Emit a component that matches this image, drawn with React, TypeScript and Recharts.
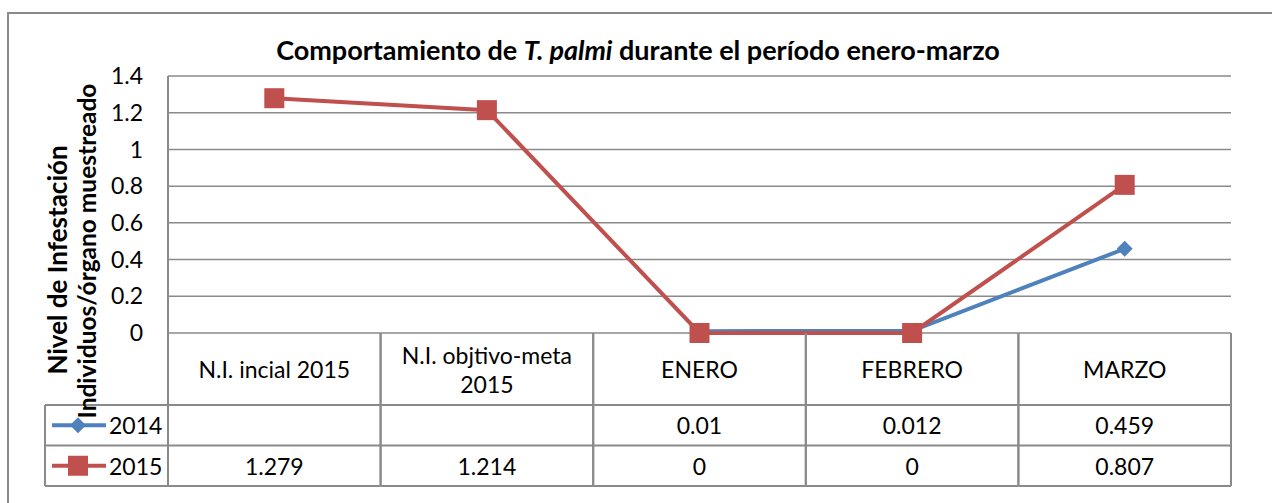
import { LineChart, Line, XAxis, YAxis, CartesianGrid } from 'recharts';

const categories = ['N.I. incial 2015', 'N.I. objtivo-meta 2015', 'ENERO', 'FEBRERO', 'MARZO'];
const values2014 = [null, null, 0.01, 0.012, 0.459];
const values2015 = [1.279, 1.214, 0, 0, 0.807];
const seriesNames = ['2014', '2015'];
const yTicks = [0, 0.2, 0.4, 0.6, 0.8, 1, 1.2, 1.4];
const titleStart = 'Comportamiento de ';
const titleItalic = 'T. palmi';
const titleEnd = ' durante el período enero-marzo';
const yLabelLines = ['Nivel de Infestación', 'Individuos/órgano muestreado'];

const W = 1272;
const H = 503;
const PLOT_LEFT = 168;
const PLOT_RIGHT = 1231;
const PLOT_TOP = 76;
const PLOT_BOTTOM = 333;
const COL_W = (PLOT_RIGHT - PLOT_LEFT) / categories.length;
const CAT_H = 72;
const ROW_H = 40.5;
const LEGEND_LEFT = 45;
const GRID = '#8a8a8a';
const BLUE = '#4F81BD';
const RED = '#C0504D';
const FONT = 'Lato, "Open Sans", sans-serif';
const FS = 23;

const data = categories.map((c, i) => ({ cat: c, s2014: values2014[i], s2015: values2015[i] }));

function wrap(text: string): string[] {
  if (text.length <= 18) return [text];
  const k = text.lastIndexOf(' ');
  return [text.slice(0, k), text.slice(k + 1)];
}

function fmt(v: number | null) {
  return v == null ? '' : String(v);
}

function SquareDot(props: any) {
  const { cx, cy } = props;
  if (cx == null || cy == null) return null;
  return <rect x={cx - 10} y={cy - 10} width={20} height={20} fill={RED} />;
}

function DiamondDot(props: any) {
  const { cx, cy } = props;
  if (cx == null || cy == null) return null;
  const r = 8;
  return <polygon points={`${cx},${cy - r} ${cx + r},${cy} ${cx},${cy + r} ${cx - r},${cy}`} fill={BLUE} />;
}

function LegendKey({ y, kind, label }: { y: number; kind: 'diamond' | 'square'; label: string }) {
  const color = kind === 'diamond' ? BLUE : RED;
  return (
    <g>
      <line x1={52} x2={106} y1={y} y2={y} stroke={color} strokeWidth={4} />
      {kind === 'diamond' ? <DiamondDot cx={78} cy={y} /> : <SquareDot cx={78} cy={y} />}
      <text x={109} y={y} dominantBaseline="central" fontSize={FS} fontFamily={FONT} fill="#000">
        {label}
      </text>
    </g>
  );
}

function TableTick(props: any) {
  const { x, y, payload } = props;
  const i = payload.index;
  const left = x - COL_W / 2;
  const right = x + COL_W / 2;
  const r1 = y + CAT_H;
  const r2 = r1 + ROW_H;
  const r3 = r2 + ROW_H;
  const lines = wrap(categories[i]);
  const txt = { fontSize: FS, fontFamily: FONT, fill: '#000', textAnchor: 'middle' as const, dominantBaseline: 'central' as const };
  return (
    <g>
      <line x1={left} x2={left} y1={y} y2={r3} stroke={GRID} strokeWidth={2} />
      <line x1={right} x2={right} y1={y} y2={r3} stroke={GRID} strokeWidth={2} />
      <line x1={left} x2={right} y1={r1} y2={r1} stroke={GRID} strokeWidth={2} />
      <line x1={left} x2={right} y1={r2} y2={r2} stroke={GRID} strokeWidth={2} />
      <line x1={left} x2={right} y1={r3} y2={r3} stroke={GRID} strokeWidth={2} />
      {lines.map((l, k) => (
        <text key={k} x={x} y={y + CAT_H / 2 + (k - (lines.length - 1) / 2) * 29} {...txt}>
          {l}
        </text>
      ))}
      <text x={x} y={r1 + ROW_H / 2} {...txt}>{fmt(values2014[i])}</text>
      <text x={x} y={r2 + ROW_H / 2} {...txt}>{fmt(values2015[i])}</text>
      {i === 0 && (
        <g>
          <line x1={LEGEND_LEFT} x2={left} y1={r1} y2={r1} stroke={GRID} strokeWidth={2} />
          <line x1={LEGEND_LEFT} x2={left} y1={r2} y2={r2} stroke={GRID} strokeWidth={2} />
          <line x1={LEGEND_LEFT} x2={left} y1={r3} y2={r3} stroke={GRID} strokeWidth={2} />
          <line x1={LEGEND_LEFT} x2={LEGEND_LEFT} y1={r1} y2={r3} stroke={GRID} strokeWidth={2} />
          <LegendKey y={r1 + ROW_H / 2} kind="diamond" label={seriesNames[0]} />
          <LegendKey y={r2 + ROW_H / 2} kind="square" label={seriesNames[1]} />
        </g>
      )}
    </g>
  );
}

export default function App() {
  return (
    <div style={{ position: 'absolute', left: 0, top: 0, width: W, height: H, overflow: 'hidden', background: '#fff' }}>
      <div style={{ position: 'absolute', left: 7, top: 12, width: W + 40, height: H + 40, border: `2px solid ${GRID}` }} />
      <div style={{ position: 'absolute', left: 0, top: 0 }}>
        <LineChart width={W} height={H} data={data} margin={{ top: PLOT_TOP, right: W - PLOT_RIGHT, bottom: 0, left: 0 }}>
          <CartesianGrid vertical={false} stroke={GRID} strokeWidth={1.5} />
          <XAxis
            dataKey="cat"
            height={H - PLOT_BOTTOM}
            padding={{ left: COL_W / 2, right: COL_W / 2 }}
            axisLine={false}
            tickLine={false}
            tickSize={0}
            tickMargin={0}
            interval={0}
            tick={<TableTick />}
          />
          <YAxis
            width={PLOT_LEFT}
            domain={[0, 1.4]}
            ticks={yTicks}
            tickLine={false}
            tickSize={0}
            tickMargin={25}
            axisLine={{ stroke: GRID, strokeWidth: 2 }}
            tick={{ fontSize: FS, fontFamily: FONT, fill: '#000' }}
          />
          <Line dataKey="s2014" name={seriesNames[0]} stroke={BLUE} strokeWidth={4} dot={<DiamondDot />} isAnimationActive={false} />
          <Line dataKey="s2015" name={seriesNames[1]} stroke={RED} strokeWidth={4} dot={<SquareDot />} isAnimationActive={false} />
        </LineChart>
      </div>
      <svg width={W} height={H} style={{ position: 'absolute', left: 0, top: 0, pointerEvents: 'none' }}>
        <text x={638} y={60} textAnchor="middle" fontSize={27} fontWeight="bold" fontFamily={FONT}>
          {titleStart}
          <tspan fontStyle="italic">{titleItalic}</tspan>
          {titleEnd}
        </text>
        {yLabelLines.map((l, k) => (
          <text
            key={k}
            transform={`translate(${k === 0 ? 67 : 96}, ${k === 0 ? 260 : 251}) rotate(-90)`}
            textAnchor="middle"
            fontSize={k === 0 ? 26 : 24.5}
            fontWeight="bold"
            fontFamily={FONT}
          >
            {l}
          </text>
        ))}
      </svg>
    </div>
  );
}
